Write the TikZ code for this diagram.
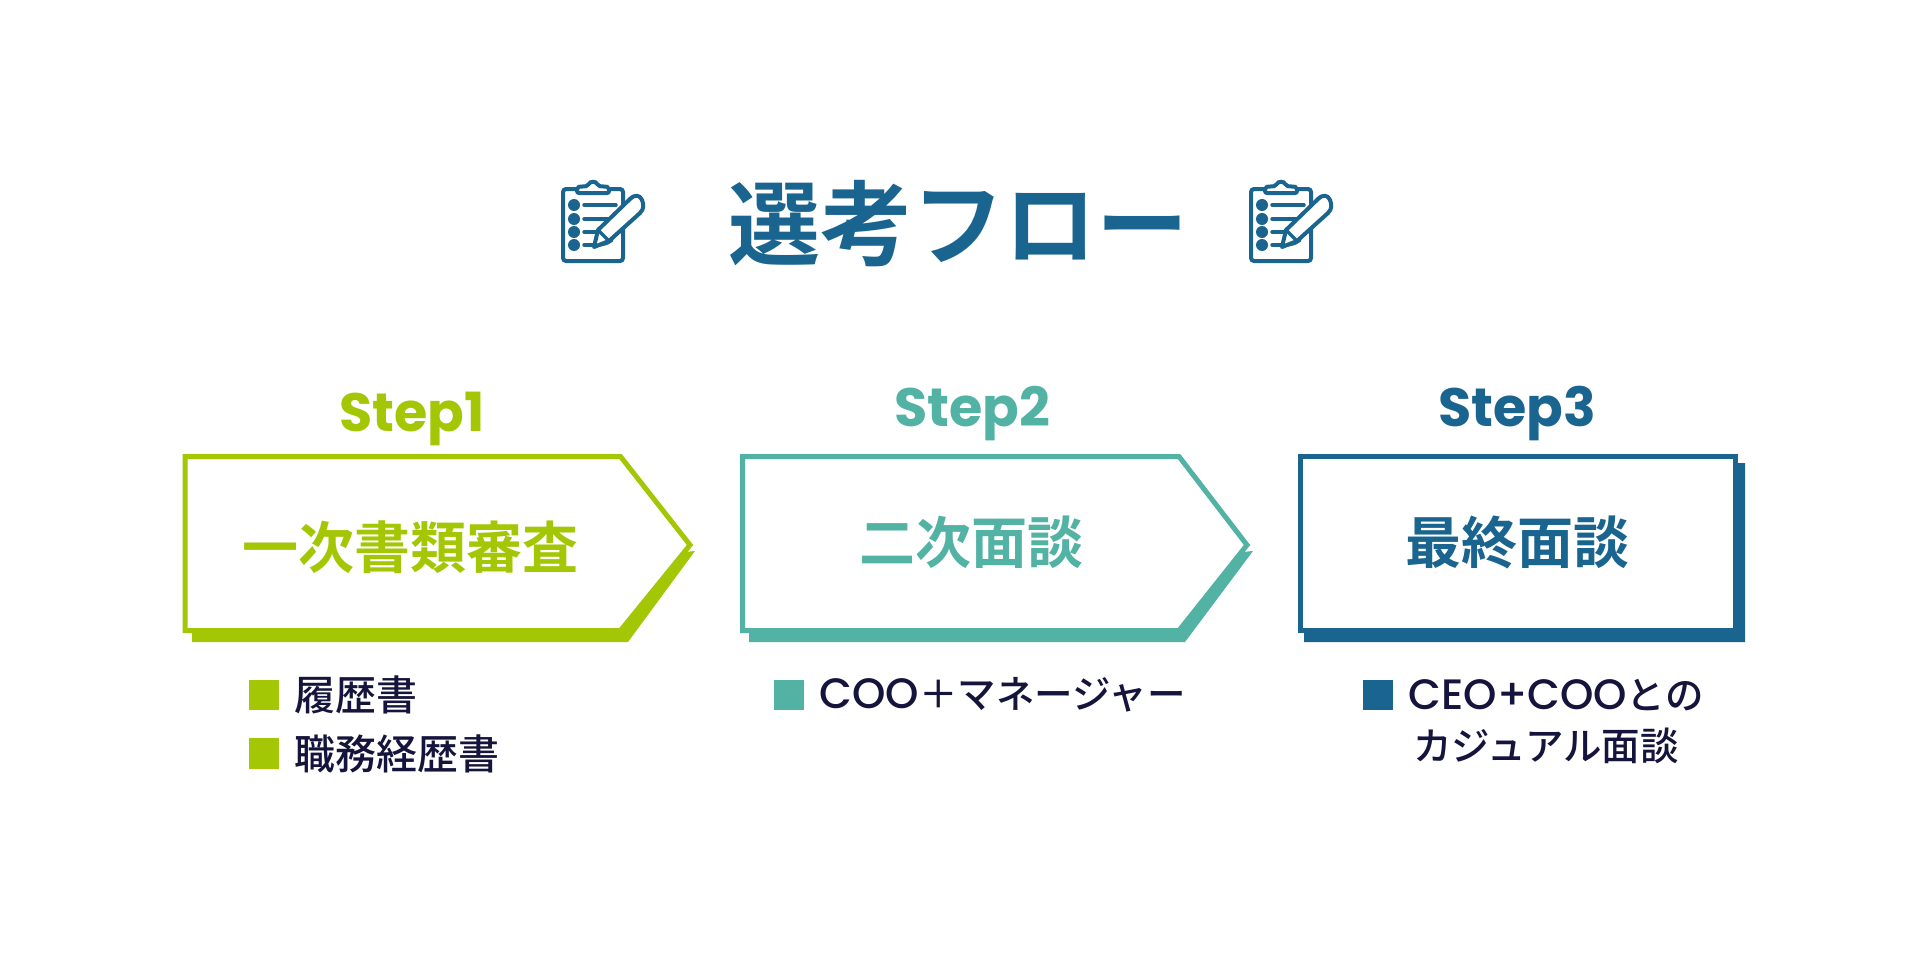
\documentclass[tikz,border=0pt]{standalone}
\usepackage{fontspec}
\usetikzlibrary{positioning}
\newfontfamily\jpfont{Noto Sans CJK JP}[BoldFont={Noto Sans CJK JP Bold}]
\newfontfamily\jpmedium{Noto Sans CJK JP Medium}
\newfontfamily\latinfont{Poppins Medium}
\newfontfamily\stepfont{Poppins}[BoldFont={Poppins Bold}]
\newcommand{\latintext}[1]{{\latinfont\fontsize{42.5}{42.5}\selectfont #1}}
\definecolor{lime}{HTML}{A3C705}
\definecolor{teal}{HTML}{52B2A3}
\definecolor{navy}{HTML}{1A658F}
\definecolor{ink}{HTML}{14143C}
\tikzset{
  title/.style   = {inner sep=0pt, text=navy, font=\jpfont\fontsize{92}{92}\selectfont\bfseries},
  steplabel/.style = {inner sep=0pt, anchor=base, font=\stepfont\fontsize{54}{54}\selectfont\bfseries},
  boxlabel/.style  = {inner sep=0pt, font=\jpfont\fontsize{56}{56}\selectfont\bfseries},
  outline/.style = {line width=5pt, fill=white, miter limit=10},
  bullet/.style  = {rectangle, inner sep=0pt, minimum size=30.5pt},
  item/.style    = {inner sep=0pt, text=ink, font=\jpmedium\fontsize{41}{41}\selectfont},
  smallitem/.style = {item, font=\jpmedium\fontsize{38.5}{38.5}\selectfont},
  clipicon/.pic = {
    \draw [navy, line width=4pt, rounded corners=3pt, fill=white] (1,9) rectangle (61,81);
    \draw [navy, line width=4pt, rounded corners=2pt, fill=white]
      (15,13) -- (15,7) -- (26,6) .. controls (28,1) and (34,1) .. (36,6) -- (47,7) -- (47,13) -- cycle;
    \foreach \yy in {25,39,52,65}
      \fill [navy] (12,\yy) circle (6pt);
    \draw [navy, line width=3.5pt, line cap=round] (22,25) -- (54,25);
    \draw [navy, line width=3.5pt, line cap=round] (22,39) -- (46,39);
    \draw [navy, line width=3.5pt, line cap=round] (22,52) -- (34,52);
    \draw [navy, line width=3.5pt, line cap=round] (22,65) -- (34,65);
    \draw [navy, line width=3.5pt, line cap=round] (34,65) .. controls (42,65) and (46,63) .. (50,60);
    \draw [navy, line width=4pt, line join=round, fill=white]
      (32,67) -- (36,50) -- (68,19) .. controls (73,14) and (78,15) .. (80,20)
      .. controls (82,25) and (82,29) .. (78,33) -- (47,61) -- cycle;
    \draw [navy, line width=3.5pt] (36,50) -- (47,61);
  }
}
\begin{document}
\begin{tikzpicture}[x=1pt, y=-1pt]
  \useasboundingbox [fill=white] (0,0) rectangle (1920,979);

  % title
  \node [title] (heading) at (958,224) {選考フロー};
  \pic at (562,180) {clipicon};
  \pic at (1250,180) {clipicon};

  % step 1
  \fill [lime] (192,642) -- (192,600) -- (695,551) -- (628,642) -- cycle;
  \draw [lime, outline] (185,456.5) -- (620.5,456.5) -- (690,545) -- (620.5,630.5) -- (185,630.5) -- cycle;
  \node [steplabel, text=lime] (step1) at (412,431) {Step1};
  \node [boxlabel, text=lime] (box1) at (410,547) {一次書類審査};
  \node [bullet, fill=lime] (b1) at (264,695) {};
  \node [bullet, fill=lime] (b2) at (264,753.5) {};
  \node [item, right=15pt of b1] (i1) {履歴書};
  \node [item, right=15pt of b2] (i2) {職務経歴書};

  % step 2
  \fill [teal] (749,642) -- (749,600) -- (1253,551) -- (1185,642) -- cycle;
  \draw [teal, outline] (742.5,456.5) -- (1179,456.5) -- (1247,545) -- (1179,630.5) -- (742.5,630.5) -- cycle;
  \node [steplabel, text=teal] (step2) at (972,426) {Step2};
  \node [boxlabel, text=teal] (box2) at (971,542) {二次面談};
  \node [bullet, fill=teal] (b3) at (789,695) {};
  \node [smallitem, right=15pt of b3] (i3) {\latintext{COO}＋マネージャー};

  % step 3
  \fill [navy] (1304,642) -- (1304,600) -- (1710,463) -- (1745,463) -- (1745,642) -- cycle;
  \draw [navy, outline] (1300.5,456.5) -- (1735,456.5) -- (1735,630.5) -- (1300.5,630.5) -- cycle;
  \node [steplabel, text=navy] (step3) at (1517,426) {Step3};
  \node [boxlabel, text=navy] (box3) at (1517,542) {最終面談};
  \node [bullet, fill=navy] (b4) at (1378,695) {};
  \node [smallitem, right=15pt of b4] (i4) {\latintext{CEO+COO}との};
  \node [smallitem, anchor=west] (i5) at (1413,746) {カジュアル面談};
\end{tikzpicture}
\end{document}
